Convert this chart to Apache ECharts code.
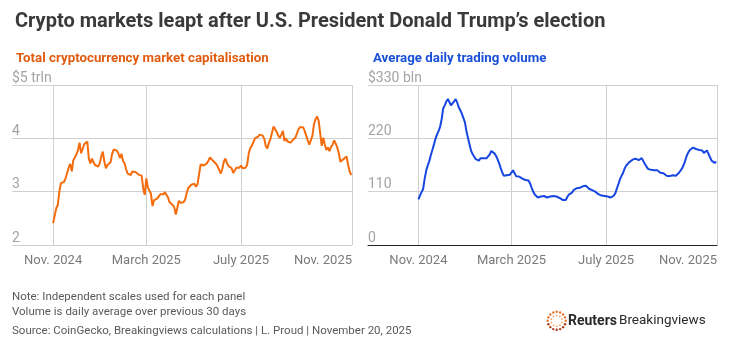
<!DOCTYPE html>
<html><head><meta charset="utf-8">
<script src="https://cdn.jsdelivr.net/npm/echarts@6/dist/echarts.min.js"></script>
<style>html,body{margin:0;padding:0;background:#fff}#c{width:740px;height:351px}</style>
</head><body><div id="c"></div>
<script>
const dates = [
'2024-11-01','2024-11-03','2024-11-05','2024-11-07','2024-11-09','2024-11-11','2024-11-13','2024-11-15','2024-11-17','2024-11-19','2024-11-21','2024-11-23','2024-11-25','2024-11-27','2024-11-29',
'2024-12-01','2024-12-03','2024-12-05','2024-12-07','2024-12-09','2024-12-11','2024-12-13','2024-12-15','2024-12-17','2024-12-19','2024-12-21','2024-12-23','2024-12-25','2024-12-27','2024-12-29','2024-12-31',
'2025-01-02','2025-01-04','2025-01-06','2025-01-08','2025-01-10','2025-01-12','2025-01-14','2025-01-16','2025-01-18','2025-01-20','2025-01-22','2025-01-24','2025-01-26','2025-01-28','2025-01-30',
'2025-02-01','2025-02-03','2025-02-05','2025-02-07','2025-02-09','2025-02-11','2025-02-13','2025-02-15','2025-02-17','2025-02-19','2025-02-21','2025-02-23','2025-02-25','2025-02-27',
'2025-03-01','2025-03-03','2025-03-05','2025-03-07','2025-03-09','2025-03-11','2025-03-13','2025-03-15','2025-03-17','2025-03-19','2025-03-21','2025-03-23','2025-03-25','2025-03-27','2025-03-29','2025-03-31',
'2025-04-02','2025-04-04','2025-04-06','2025-04-08','2025-04-10','2025-04-12','2025-04-14','2025-04-16','2025-04-18','2025-04-20','2025-04-22','2025-04-24','2025-04-26','2025-04-28','2025-04-30',
'2025-05-02','2025-05-04','2025-05-06','2025-05-08','2025-05-10','2025-05-12','2025-05-14','2025-05-16','2025-05-18','2025-05-20','2025-05-22','2025-05-24','2025-05-26','2025-05-28','2025-05-30',
'2025-06-01','2025-06-03','2025-06-05','2025-06-07','2025-06-09','2025-06-11','2025-06-13','2025-06-15','2025-06-17','2025-06-19','2025-06-21','2025-06-23','2025-06-25','2025-06-27','2025-06-29',
'2025-07-01','2025-07-03','2025-07-05','2025-07-07','2025-07-09','2025-07-11','2025-07-13','2025-07-15','2025-07-17','2025-07-19','2025-07-21','2025-07-23','2025-07-25','2025-07-27','2025-07-29','2025-07-31',
'2025-08-02','2025-08-04','2025-08-06','2025-08-08','2025-08-10','2025-08-12','2025-08-14','2025-08-16','2025-08-18','2025-08-20','2025-08-22','2025-08-24','2025-08-26','2025-08-28','2025-08-30',
'2025-09-01','2025-09-03','2025-09-05','2025-09-07','2025-09-09','2025-09-11','2025-09-13','2025-09-15','2025-09-17','2025-09-19','2025-09-21','2025-09-23','2025-09-25','2025-09-27','2025-09-29',
'2025-10-01','2025-10-03','2025-10-05','2025-10-07','2025-10-09','2025-10-11','2025-10-13','2025-10-15','2025-10-17','2025-10-19','2025-10-21','2025-10-23','2025-10-25','2025-10-27','2025-10-29','2025-10-31',
'2025-11-02','2025-11-04','2025-11-06','2025-11-08','2025-11-10','2025-11-12','2025-11-14','2025-11-16','2025-11-18','2025-11-20'
];
// $ trillion
const marketCap = [
2.41,2.55,2.69,2.75,3.0,3.16,3.14,3.18,3.25,3.28,
3.45,3.52,3.38,3.59,3.64,3.70,3.78,3.92,3.72,3.80,
3.89,3.91,3.94,3.62,3.53,3.62,3.55,3.50,3.47,3.47,
3.53,3.66,3.75,3.56,3.44,3.50,3.50,3.55,3.71,3.79,
3.76,3.77,3.72,3.63,3.71,3.58,3.53,3.42,3.34,3.31,
3.31,3.38,3.40,3.37,3.35,3.32,3.34,3.30,3.06,2.94,
3.25,3.08,3.05,2.96,2.73,2.84,2.81,2.87,2.90,2.95,
2.93,2.95,2.99,2.96,2.89,2.80,2.83,2.75,2.71,2.57,
2.70,2.83,2.79,2.78,2.80,2.85,2.97,3.07,3.10,3.13,
3.14,3.15,3.09,3.14,3.33,3.51,3.48,3.49,3.48,3.53,
3.58,3.64,3.62,3.58,3.57,3.52,3.47,3.48,3.34,3.43,
3.57,3.62,3.53,3.48,3.47,3.44,3.35,3.36,3.45,3.46,
3.45,3.49,3.44,3.47,3.45,3.51,3.72,3.82,3.86,3.93,
4.00,4.02,4.03,4.07,4.04,4.05,3.99,3.85,3.81,3.92,
3.99,4.11,4.22,4.20,4.12,4.05,4.01,4.07,4.14,3.95,
4.00,3.94,3.97,3.92,3.96,3.97,4.01,4.09,4.17,4.21,
4.20,4.21,4.14,4.05,3.96,3.88,3.96,4.05,4.26,4.36,
4.41,4.33,4.10,3.86,4.01,3.88,3.78,3.83,3.76,3.84,
3.88,3.96,3.90,3.83,3.72,3.56,3.56,3.61,3.63,3.66,
3.50,3.38,3.31
];
// $ billion, 30-day average
const tradingVolume = [
94,102,109,115,136,153,164,173,185,196,
207,219,228,235,244,260,282,288,296,301,
297,288,289,296,301,294,284,278,271,268,
253,234,220,207,194,187,183,177,174,174,
179,177,179,181,179,181,187,194,194,189,
184,177,169,159,150,143,141,144,148,145,
149,154,148,142,142,141,139,137,137,134,
135,133,127,118,110,104,101,98,98,100,
100,101,99,98,101,100,100,101,101,100,
99,97,94,93,92,93,99,104,107,108,
113,115,117,117,118,120,121,123,122,119,
116,114,113,112,110,107,105,103,102,102,
101,100,100,99,98,98,102,107,117,126,
136,143,149,158,164,168,171,173,176,177,
178,177,175,179,179,173,167,163,157,155,
155,156,154,153,154,151,149,148,148,145,
143,144,142,143,144,143,143,144,149,152,
158,165,174,184,191,196,198,201,201,198,
196,196,193,195,190,194,195,193,181,174,
171,169,172
];
const xTickDates = ['2024-11-01','2025-03-01','2025-07-01','2025-11-21'];
const xTickLabels = ['Nov. 2024','March 2025','July 2025','Nov. 2025'];
const capTicks = [2,3,4,5];
const capTickLabels = ['2','3','4','$5 trln'];
const volTicks = [0,110,220,330];
const volTickLabels = ['0','110','220','$330 bln'];
const title = 'Crypto markets leapt after U.S. President Donald Trump\u2019s election';
const capTitle = 'Total cryptocurrency market capitalisation';
const volTitle = 'Average daily trading volume';
const notes = ['Note: Independent scales used for each panel','Volume is daily average over previous 30 days'];
const source = 'Source: CoinGecko, Breakingviews calculations | L. Proud | November 20, 2025';

function ts(s){const p=s.split('-').map(Number);return Date.UTC(p[0],p[1]-1,p[2]);}
const tickTs = xTickDates.map(ts);
const FONT = 'Roboto, "Noto Sans", sans-serif';
const GRID = '#d0d0d0';
const ORANGE = '#f56c0c', BLUE = '#1747e0';

function xAxis(gi, minDate){
  return {
    type:'value', gridIndex:gi, min: ts(minDate), max: tickTs[3], scale:true,
    axisLine:{show: gi===1, onZero:false, lineStyle:{color:'#222', width:1}},
    axisTick:{show:false, customValues: tickTs},
    splitLine:{show:true, lineStyle:{color:GRID, width:1}},
    axisLabel:{customValues: tickTs, color:'#7a7a7a', fontSize:13, fontFamily:FONT, margin:9,
      showMinLabel:true, showMaxLabel:true, alignMaxLabel:'right', hideOverlap:false,
      formatter: v => { const i = tickTs.findIndex(t => Math.abs(t - v) < 43200000); return i>=0 ? xTickLabels[i] : ''; } }
  };
}
function yAxis(gi, ticks, labels){
  return {
    type:'value', gridIndex:gi, min:ticks[0], max:ticks[ticks.length-1], interval:ticks[1]-ticks[0],
    axisLine:{show:false}, axisTick:{show:false},
    splitLine:{show:true, lineStyle:{color:GRID, width:1}},
    axisLabel:{inside:true, margin:0, align:'left', verticalAlign:'bottom', padding:[0,0,0,0],
      color:'#a4a4a4', fontSize:14, fontFamily:FONT,
      formatter: v => { const i = ticks.indexOf(v); return i>=0 ? labels[i] : ''; } }
  };
}

const chart = echarts.init(document.getElementById('c'), null, {renderer:'canvas'});
const dots = [];
const CX = 556.7, CY = 320.8;
for (let k=0;k<16;k++){
  const a = k/16*Math.PI*2;
  const lower = Math.sin(a) > 0.2;
  dots.push({type:'circle', shape:{cx:CX+9*Math.cos(a), cy:CY+9*Math.sin(a), r:1.2}, style:{fill: lower ? '#a83a1a' : '#e8742c'}});
}
for (let k=0;k<10;k++){
  const a = k/10*Math.PI*2+0.3;
  dots.push({type:'circle', shape:{cx:CX+5.5*Math.cos(a), cy:CY+5.5*Math.sin(a), r:0.9}, style:{fill:'#f3a66a'}});
}
chart.setOption({
  animation:false,
  backgroundColor:'#ffffff',
  title:[
    {text:title, left:10, top:7, textStyle:{fontFamily:FONT, fontWeight:'bold', fontSize:20, color:'#3a3a3a'}},
    {text:capTitle, left:11, top:47, textStyle:{fontFamily:FONT, fontWeight:'bold', fontSize:13.3, color:'#e05c10'}},
    {text:volTitle, left:368, top:47, textStyle:{fontFamily:FONT, fontWeight:'bold', fontSize:13.3, color:'#1a4fd8'}}
  ],
  grid:[
    {left:12, right:388, top:85, bottom:106},
    {left:368, right:23, top:85, bottom:106}
  ],
  xAxis:[ xAxis(0,'2024-09-09'), xAxis(1,'2024-08-28') ],
  yAxis:[ yAxis(0,capTicks,capTickLabels), yAxis(1,volTicks,volTickLabels) ],
  series:[
    {type:'line', xAxisIndex:0, yAxisIndex:0, data: dates.map((d,i)=>[ts(d), marketCap[i]]),
      showSymbol:false, lineStyle:{color:ORANGE, width:2}, itemStyle:{color:ORANGE}},
    {type:'line', xAxisIndex:1, yAxisIndex:1, data: dates.map((d,i)=>[ts(d), tradingVolume[i]]),
      showSymbol:false, lineStyle:{color:BLUE, width:2}, itemStyle:{color:BLUE}}
  ],
  graphic:[
    {type:'text', left:12, top:291, style:{text:notes[0], font:'11.5px '+FONT, fill:'#5a5a5a'}},
    {type:'text', left:12, top:306.5, style:{text:notes[1], font:'11.5px '+FONT, fill:'#5a5a5a'}},
    {type:'text', left:12, top:325, style:{text:source, font:'11.5px '+FONT, fill:'#5a5a5a'}},
    {type:'group', children:dots},
    {type:'text', left:568, top:314, style:{text:'Reuters', font:'bold 14px '+FONT, fill:'#2a2a2a'}},
    {type:'text', left:619, top:314, style:{text:'Breakingviews', font:'13.5px '+FONT, fill:'#2a2a2a'}}
  ]
});
</script></body></html>
